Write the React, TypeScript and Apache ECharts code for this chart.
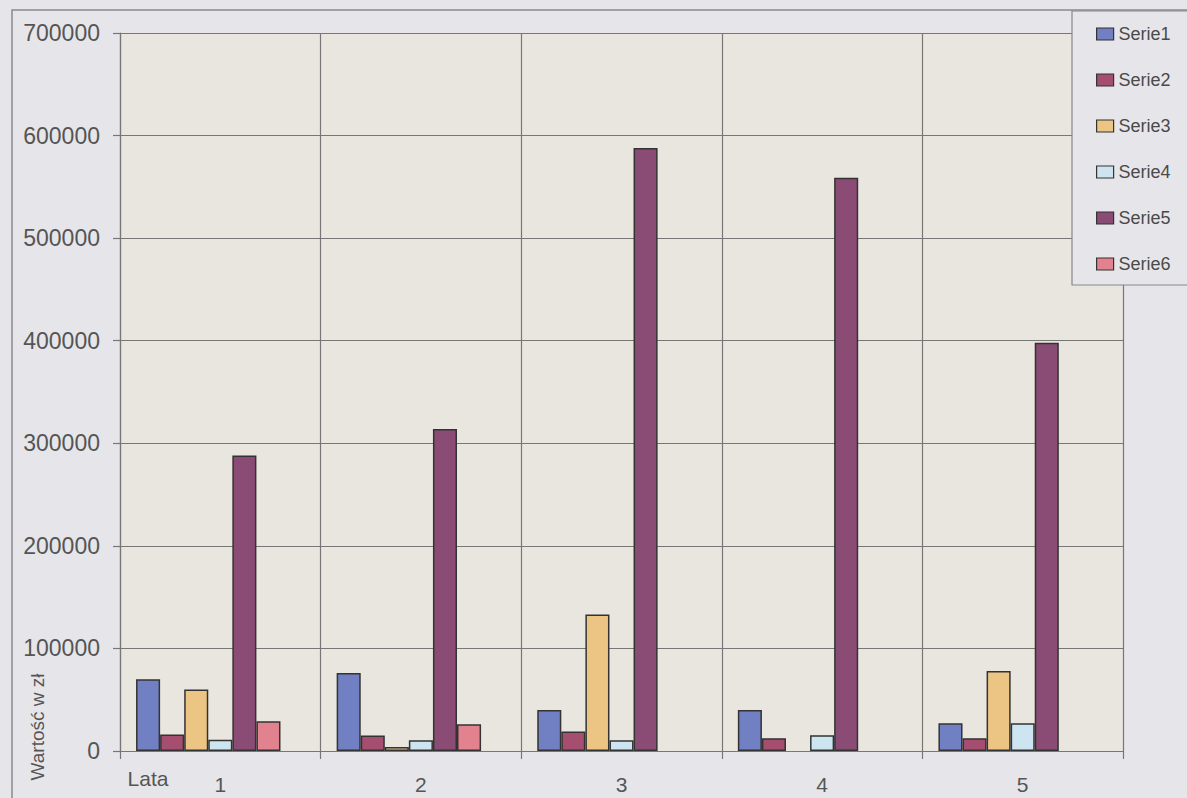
import React, { useEffect, useRef } from "react";
import * as echarts from "echarts";

const categories = ["1", "2", "3", "4", "5"];
const seriesNames = ["Serie1", "Serie2", "Serie3", "Serie4", "Serie5", "Serie6"];
const serie1 = [70000, 76000, 40000, 40000, 27000];
const serie2 = [16000, 15000, 19000, 12500, 12500];
const serie3 = [60000, 4000, 133000, null, 78000];
const serie4 = [11000, 10500, 10500, 15300, 27000];
const serie5 = [288000, 314000, 588000, 559000, 398000];
const serie6 = [29000, 26000, null, null, null];
const emptySlot = [null, null, null, null, null];
const seriesColors = ["#7080c2", "#a54e70", "#ecc584", "#cde5f1", "#8a4c74", "#e2828e"];
const yTicks = [0, 100000, 200000, 300000, 400000, 500000, 600000, 700000];

const FONT = "'Liberation Sans', Arial, sans-serif";

export default function App() {
  const ref = useRef<HTMLDivElement>(null);
  useEffect(() => {
    if (!ref.current) return;
    const chart = echarts.init(ref.current, undefined, { renderer: "svg" });
    const values = [serie1, serie2, serie3, serie4, serie5, serie6];
    const series: any[] = values.map((d, i) => ({
      name: seriesNames[i],
      type: "bar",
      data: d,
      barGap: "0%",
      barCategoryGap: "16%",
      itemStyle: { color: seriesColors[i], borderColor: "#333", borderWidth: 1.5 },
    }));
    series.push({
      name: "",
      type: "bar",
      data: emptySlot,
      barGap: "0%",
      barCategoryGap: "16%",
    });
    chart.setOption({
      animation: false,
      backgroundColor: "#e6e6ea",
      textStyle: { fontFamily: FONT },
      grid: {
        left: 120,
        right: 64,
        top: 33,
        bottom: 47,
        show: true,
        backgroundColor: "#e9e6df",
        borderWidth: 0,
      },
      legend: {
        data: seriesNames,
        orient: "vertical",
        left: 1072,
        top: 11,
        padding: [14, 80, 12, 24],
        itemGap: 28,
        itemWidth: 17,
        itemHeight: 12,
        backgroundColor: "#e6e6ea",
        borderColor: "#888",
        borderWidth: 1.2,
        borderRadius: 0,
        icon: "rect",
        itemStyle: { borderColor: "#333", borderWidth: 1.2 },
        textStyle: { fontSize: 18, color: "#4a4a4a", fontFamily: FONT, padding: [0, 0, 0, 0] },
      },
      graphic: [
        {
          type: "rect",
          z: 0,
          shape: { x: 12, y: 10, width: 1300, height: 900 },
          style: { fill: "none", stroke: "#8a8a8a", lineWidth: 1.5 },
        },
        {
          type: "text",
          x: 37,
          y: 727,
          rotation: Math.PI / 2,
          style: {
            text: "Wartość w zł",
            fontSize: 19,
            fontFamily: FONT,
            fill: "#555",
            textAlign: "center",
            textVerticalAlign: "middle",
          },
        },
        {
          type: "text",
          x: 148,
          y: 778,
          style: {
            text: "Lata",
            fontSize: 21,
            fontFamily: FONT,
            fill: "#555",
            textAlign: "center",
            textVerticalAlign: "middle",
          },
        },
      ],
      xAxis: {
        type: "category",
        data: categories,
        axisLine: { show: true, lineStyle: { color: "#777", width: 1.2 } },
        axisTick: { show: true, length: 8, lineStyle: { color: "#777", width: 1.2 } },
        axisLabel: { fontSize: 21, color: "#555", margin: 23, fontFamily: FONT },
        splitLine: { show: true, showMinLine: true, showMaxLine: true, lineStyle: { color: "#777", width: 1.2 } },
      },
      yAxis: {
        type: "value",
        min: yTicks[0],
        max: yTicks[yTicks.length - 1],
        interval: yTicks[1] - yTicks[0],
        axisLine: { show: true, lineStyle: { color: "#777", width: 1.2 } },
        axisTick: { show: true, length: 7, lineStyle: { color: "#777", width: 1.2 } },
        axisLabel: {
          fontSize: 23,
          color: "#555",
          margin: 20,
          fontFamily: FONT,
          formatter: (v: number) => String(v),
        },
        splitLine: { show: true, lineStyle: { color: "#777", width: 1.2 } },
      },
      series,
    });
    return () => chart.dispose();
  }, []);
  return (
    <div
      ref={ref}
      style={{ position: "fixed", left: 0, top: 0, width: 1187, height: 798 }}
    />
  );
}
